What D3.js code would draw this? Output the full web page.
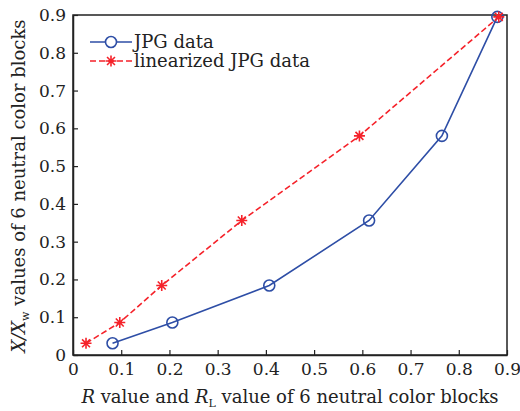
<!DOCTYPE html>
<html><head><meta charset="utf-8">
<script src="https://cdn.jsdelivr.net/npm/d3@7"></script>
<style>body{margin:0;background:#fff}svg{display:block}text{font-family:"DejaVu Serif",serif;fill:#222}</style>
</head><body>
<svg id="c" width="520" height="411"></svg>
<script>
const jpgX = [0.082, 0.206, 0.407, 0.614, 0.765, 0.880];
const jpgY = [0.031, 0.086, 0.184, 0.356, 0.580, 0.895];
const linX = [0.027, 0.097, 0.184, 0.350, 0.594, 0.883];
const linY = [0.031, 0.086, 0.184, 0.356, 0.580, 0.895];
const xTicks = [0, 0.1, 0.2, 0.3, 0.4, 0.5, 0.6, 0.7, 0.8, 0.9];
const yTicks = [0, 0.1, 0.2, 0.3, 0.4, 0.5, 0.6, 0.7, 0.8, 0.9];
const seriesNames = ["JPG data", "linearized JPG data"];

const svg = d3.select("#c");
const L = 73, R = 507, T = 15, B = 355;
const x = d3.scaleLinear().domain([0, 0.9]).range([L, R]);
const y = d3.scaleLinear().domain([0, 0.9]).range([B, T]);
const blue = "#2e4ea6", red = "#f5222a";
const fmt = d => d === 0 ? "0" : d3.format(".1f")(d);

svg.append("rect").attr("x", L).attr("y", T).attr("width", R - L).attr("height", B - T)
  .attr("fill", "none").attr("stroke", "#222").attr("stroke-width", 1.5);

const xa = svg.append("g").attr("transform", `translate(0,${B})`)
  .call(d3.axisBottom(x).tickValues(xTicks).tickFormat(fmt).tickSizeInner(-5).tickSizeOuter(0).tickPadding(8));
const ya = svg.append("g").attr("transform", `translate(${L},0)`)
  .call(d3.axisLeft(y).tickValues(yTicks).tickFormat(fmt).tickSizeInner(-5).tickSizeOuter(0).tickPadding(7));
[xa, ya].forEach(a => {
  a.select(".domain").attr("stroke", "#222").attr("stroke-width", 1.5);
  a.selectAll(".tick line").attr("stroke", "#222").attr("stroke-width", 1.2);
  a.selectAll("text").attr("font-family", "DejaVu Serif").attr("font-size", 17).attr("fill", "#222");
});

const jpg = jpgX.map((v, i) => [v, jpgY[i]]);
const lin = linX.map((v, i) => [v, linY[i]]);
const line = d3.line().x(d => x(d[0])).y(d => y(d[1]));

svg.append("path").datum(lin).attr("d", line).attr("fill", "none")
  .attr("stroke", red).attr("stroke-width", 1.6).attr("stroke-dasharray", "6,3");
svg.append("path").datum(jpg).attr("d", line).attr("fill", "none")
  .attr("stroke", blue).attr("stroke-width", 1.6);

function star(g, cx, cy, r) {
  const p = d3.path();
  p.moveTo(cx - r, cy); p.lineTo(cx + r, cy);
  p.moveTo(cx, cy - r); p.lineTo(cx, cy + r);
  const k = r * 0.72;
  p.moveTo(cx - k, cy - k); p.lineTo(cx + k, cy + k);
  p.moveTo(cx - k, cy + k); p.lineTo(cx + k, cy - k);
  g.append("path").attr("d", p.toString()).attr("stroke", red).attr("stroke-width", 1.6).attr("fill", "none");
}
svg.selectAll("circle.m").data(jpg).enter().append("circle").attr("class", "m")
  .attr("cx", d => x(d[0])).attr("cy", d => y(d[1])).attr("r", 5.5)
  .attr("fill", "none").attr("stroke", blue).attr("stroke-width", 1.6);
const sg = svg.append("g");
lin.forEach(d => star(sg, x(d[0]), y(d[1]), 5.5));

const lg = svg.append("g");
lg.append("line").attr("x1", 90).attr("x2", 132).attr("y1", 42).attr("y2", 42).attr("stroke", blue).attr("stroke-width", 1.6);
lg.append("circle").attr("cx", 111).attr("cy", 42).attr("r", 5.5).attr("fill", "#fff").attr("stroke", blue).attr("stroke-width", 1.6);
lg.append("line").attr("x1", 90).attr("x2", 132).attr("y1", 61).attr("y2", 61).attr("stroke", red).attr("stroke-width", 1.6).attr("stroke-dasharray", "6,3");
star(lg, 111, 61, 5.5);
lg.append("text").attr("x", 134).attr("y", 48).attr("font-size", 18).text(seriesNames[0]);
lg.append("text").attr("x", 134).attr("y", 67).attr("font-size", 18).text(seriesNames[1]);

const xl = svg.append("text").attr("x", 290).attr("y", 403).attr("text-anchor", "middle").attr("font-size", 18);
xl.append("tspan").attr("font-style", "italic").text("R");
xl.append("tspan").text(" value and ");
xl.append("tspan").attr("font-style", "italic").text("R");
xl.append("tspan").attr("font-size", 11).attr("dy", 4).text("L");
xl.append("tspan").attr("dy", -4).text(" value of 6 neutral color blocks");

const yl = svg.append("text").attr("transform", "translate(25,186) rotate(-90)").attr("text-anchor", "middle").attr("font-size", 18);
yl.append("tspan").attr("font-style", "italic").text("X/X");
yl.append("tspan").attr("font-size", 11).attr("dy", 4).text("w");
yl.append("tspan").attr("dy", -4).text(" values of 6 neutral color blocks");
</script>
</body></html>
